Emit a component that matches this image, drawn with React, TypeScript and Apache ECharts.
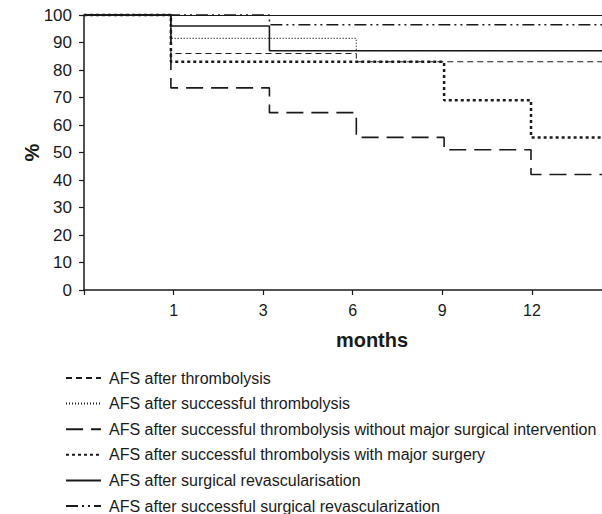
import React, { useEffect, useRef } from "react";
import * as echarts from "echarts";

const monthLabels = ["", "1", "3", "6", "9", "12"];
const yTicks = [0, 10, 20, 30, 40, 50, 60, 70, 80, 90, 100];
const xEnd = 6.43;

const seriesNames = [
  "AFS after thrombolysis",
  "AFS after successful thrombolysis",
  "AFS after successful thrombolysis without major surgical intervention",
  "AFS after successful thrombolysis with major surgery",
  "AFS after surgical revascularisation",
  "AFS after successful surgical revascularization",
];

// [position on month axis (index), survival %]
const afsThrombolysis = [[0, 100], [0.97, 86], [3.04, 83], [xEnd, 83]];
const afsSuccThrombolysis = [[0, 100], [0.97, 91.5], [3.04, 87], [xEnd, 87]];
const afsSuccNoSurgery = [[0, 100], [0.97, 73.5], [2.07, 64.5], [3.04, 55.5], [4.02, 51], [4.99, 42], [xEnd, 42]];
const afsSuccWithSurgery = [[0, 100], [0.97, 83], [4.02, 69], [4.99, 55.5], [xEnd, 55.5]];
const afsSurgical = [[0, 100], [0.97, 96], [2.07, 87], [xEnd, 87]];
const afsSuccSurgical = [[0, 100], [2.07, 96.5], [xEnd, 96.5]];

const seriesData = [afsThrombolysis, afsSuccThrombolysis, afsSuccNoSurgery, afsSuccWithSurgery, afsSurgical, afsSuccSurgical];
const lineStyles: any[] = [
  { width: 1, type: [6, 4] },
  { width: 1.2, type: [1, 2] },
  { width: 1.6, type: [17, 8] },
  { width: 2.5, type: [3, 3] },
  { width: 1.6, type: "solid" },
  { width: 1.5, type: [12, 4, 2, 4, 2, 4] },
];

const FONT = "'Liberation Sans', Arial, sans-serif";
const INK = "#1a1a1a";

export default function App() {
  const ref = useRef<HTMLDivElement>(null);
  useEffect(() => {
    document.body.style.margin = "0";
    const chart = echarts.init(ref.current!, null, { renderer: "svg" });
    chart.setOption({
      animation: false,
      backgroundColor: "#ffffff",
      grid: { left: 84, top: 15, width: 576, height: 275, containLabel: false, outerBoundsMode: "none" },
      legend: {
        orient: "vertical",
        left: 65,
        top: 370,
        height: 200,
        padding: 0,
        itemWidth: 35,
        itemHeight: 14,
        itemGap: 9.6,
        itemStyle: { color: "transparent", borderColor: "transparent", borderWidth: 0, opacity: 0 },
        textStyle: { fontFamily: FONT, fontSize: 16, color: INK, padding: [0, 0, 0, 3] },
        data: seriesNames,
      },
      xAxis: [
        {
          type: "value",
          min: 0,
          max: xEnd,
          interval: 1,
          name: "months",
          nameLocation: "middle",
          nameGap: 40,
          nameMoveOverlap: false,
          nameTextStyle: { fontFamily: FONT, fontSize: 20, fontWeight: "bold", color: INK },
          axisLine: { show: true, lineStyle: { color: INK, width: 1.5 } },
          axisTick: { show: true, length: 5, lineStyle: { color: INK, width: 1.2 } },
          axisLabel: {
            fontFamily: FONT,
            fontSize: 16,
            color: INK,
            margin: 12,
            showMaxLabel: false,
            formatter: (v: number) => (Number.isInteger(v) && monthLabels[v] !== undefined ? monthLabels[v] : ""),
          },
          splitLine: { show: false },
        },
        {
          type: "value",
          position: "top",
          min: 0,
          max: xEnd,
          axisLine: { show: true, lineStyle: { color: INK, width: 1.2 } },
          axisTick: { show: false },
          axisLabel: { show: false },
          splitLine: { show: false },
        },
      ],
      yAxis: {
        type: "value",
        min: 0,
        max: 100,
        interval: 10,
        name: "%",
        nameLocation: "middle",
        nameGap: 42,
        nameMoveOverlap: false,
        nameTextStyle: { fontFamily: FONT, fontSize: 20, fontWeight: "bold", color: INK },
        axisLine: { show: true, lineStyle: { color: INK, width: 1.5 } },
        axisTick: { show: true, length: 5, lineStyle: { color: INK, width: 1.2 } },
        axisLabel: {
          fontFamily: FONT,
          fontSize: 17,
          color: INK,
          margin: 12,
          formatter: (v: number) => (yTicks.includes(v) ? String(v) : ""),
        },
        splitLine: { show: false },
      },
      series: seriesNames.map((name, i) => ({
        name,
        type: "line",
        step: "end",
        data: seriesData[i],
        symbol: "none",
        showSymbol: false,
        clip: false,
        color: INK,
        lineStyle: { color: INK, ...lineStyles[i] },
        z: 2 + i,
      })),
    });
    return () => chart.dispose();
  }, []);
  return <div ref={ref} style={{ width: 602, height: 514 }} />;
}
